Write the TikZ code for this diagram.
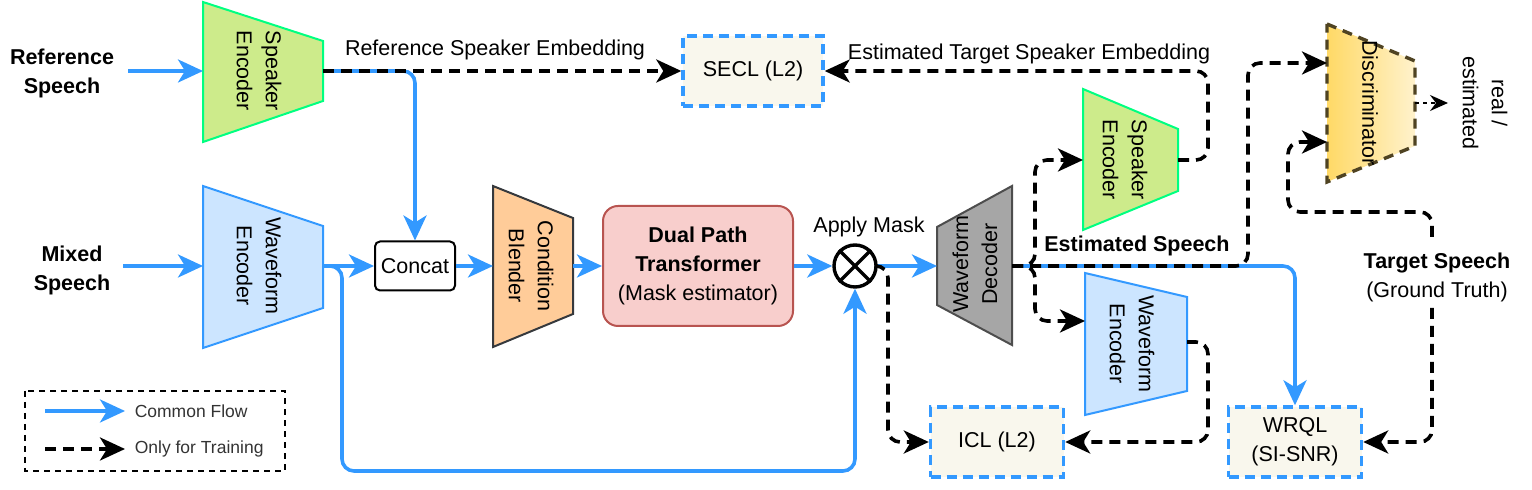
\documentclass[tikz,border=0pt]{standalone}
\usepackage{fontspec}
\setmainfont{Liberation Sans}
\usepackage{tikz}
\usetikzlibrary{arrows.meta,calc}
\definecolor{bleu}{HTML}{3399FF}
\definecolor{bleuclair}{HTML}{CCE5FF}
\definecolor{vert}{HTML}{00FF80}
\definecolor{vertclair}{HTML}{CDEB8B}
\definecolor{peche}{HTML}{FFCC99}
\definecolor{ardoise}{HTML}{36393D}
\definecolor{rose}{HTML}{F8CECC}
\definecolor{brique}{HTML}{B85450}
\definecolor{gris}{HTML}{A6A6A6}
\definecolor{grisfonce}{HTML}{4D4D4D}
\definecolor{beige}{HTML}{F9F7ED}
\definecolor{jaune}{HTML}{FFD966}
\definecolor{jauneclair}{HTML}{FFF2CC}
\definecolor{bronze}{HTML}{4F4322}
\definecolor{encre}{HTML}{333333}

\begin{document}
\begin{tikzpicture}[x=0.5pt, y=-0.5pt,
  font=\fontsize{10.75}{14.5}\selectfont,
  pointe/.style={-{Stealth[length=12.5pt,width=11.5pt,inset=3.5pt]}},
  flux/.style={pointe, draw=bleu, line width=1.8pt, rounded corners=6pt},
  entrainement/.style={pointe, draw=black, line width=1.8pt, dash pattern=on 5.5pt off 3.5pt, rounded corners=6pt},
  perte/.style={draw=bleu, fill=beige, line width=1.7pt, dash pattern=on 5pt off 3pt, minimum height=35pt, inner sep=0pt, align=center},
  texte/.style={align=center, inner sep=0pt}]
  \useasboundingbox (0,0) rectangle (1532,490);

  % Entrees.
  \node[texte, font=\fontsize{10.75}{14.5}\selectfont\bfseries] (refspeech) at (62,73) {Reference\\Speech};
  \node[texte, font=\fontsize{10.75}{14.5}\selectfont\bfseries] (mixspeech) at (72,270) {Mixed\\Speech};
  \coordinate (refsrc) at (128,71);
  \coordinate (mixsrc) at (123,266);

  % Encodeur de locuteur.
  \path[draw=vert, fill=vertclair, line width=1pt] (203,2) -- (323,41) -- (323,101) -- (203,142) -- cycle;
  \node[texte, rotate=-90] (se1) at (259,71) {Speaker\\Encoder};
  \coordinate (se1in) at (203,71);
  \coordinate (se1out) at (323,71);

  % Encodeur de forme d'onde.
  \path[draw=bleu, fill=bleuclair, line width=1pt] (203,186) -- (323,226) -- (323,308) -- (203,348) -- cycle;
  \node[texte, rotate=-90] (we1) at (259,266) {Waveform\\Encoder};
  \coordinate (we1in) at (203,266);
  \coordinate (we1out) at (323,266);

  % Concat.
  \node[draw=black, line width=1pt, rounded corners=2.5pt, minimum width=40pt, minimum height=24.5pt, texte] (concat) at (415,266) {Concat};

  % Melangeur.
  \path[draw=ardoise, fill=peche, line width=1pt] (493,186) -- (573,218) -- (573,314) -- (493,347) -- cycle;
  \node[texte, rotate=-90] (cb) at (531,266) {Condition\\Blender};
  \coordinate (cbin) at (493,266);
  \coordinate (cbout) at (573,266);

  % Transformer.
  \node[draw=brique, fill=rose, line width=1pt, rounded corners=7.5pt, minimum width=95pt, minimum height=60pt, texte] (dpt) at (698,266) {\textbf{Dual Path}\\\textbf{Transformer}\\(Mask estimator)};

  % Masque.
  \node[circle, draw=black, line width=1.7pt, minimum size=21pt, inner sep=0pt] (mask) at (855,266) {};
  \draw[line width=1.7pt] (mask.north west) -- (mask.south east) (mask.north east) -- (mask.south west);
  \node[inner sep=0pt, anchor=base] (masklabel) at (869,233) {Apply Mask};

  % Decodeur.
  \path[draw=grisfonce, fill=gris, line width=1pt] (937,227) -- (1012,186) -- (1012,345) -- (937,305) -- cycle;
  \node[texte, rotate=90] (wd) at (975,264) {Waveform\\Decoder};
  \coordinate (wdin) at (937,266);
  \coordinate (wdout) at (1012,266);
  \node[inner sep=0pt, anchor=base, font=\fontsize{10.75}{14.5}\selectfont\bfseries] (estspeech) at (1137,252) {Estimated Speech};

  % Encodeurs de la sortie.
  \path[draw=vert, fill=vertclair, line width=1pt] (1083,89) -- (1178,129) -- (1178,191) -- (1083,230) -- cycle;
  \node[texte, rotate=-90] (se2) at (1125,160) {Speaker\\Encoder};
  \coordinate (se2in) at (1083,160);
  \coordinate (se2out) at (1178,160);
  \path[draw=bleu, fill=bleuclair, line width=1pt] (1085,273) -- (1187,297) -- (1187,391) -- (1085,415) -- cycle;
  \node[texte, rotate=-90] (we2) at (1132,344) {Waveform\\Encoder};
  \coordinate (we2in) at (1085,321);
  \coordinate (we2out) at (1187,342);

  % Discriminateur.
  \path[draw=bronze, left color=jaune, right color=jauneclair, line width=1.7pt, dash pattern=on 5pt off 3.5pt] (1327,24) -- (1415,61) -- (1415,146) -- (1327,182) -- cycle;
  \node[texte, rotate=-90] (disc) at (1370,103) {Discriminator};
  \coordinate (discin1) at (1327,63);
  \coordinate (discin2) at (1327,142);
  \coordinate (discout) at (1415,103);
  \node[texte, rotate=-90] (verdict) at (1485,103) {real /\\estimated};

  % Pertes.
  \node[perte, minimum width=70pt] (secl) at (753,71) {SECL (L2)};
  \node[perte, minimum width=66.5pt] (icl) at (997,442) {ICL (L2)};
  \node[perte, minimum width=66.5pt] (wrql) at (1295,442) {WRQL\\(SI-SNR)};

  % Cible.
  \node[texte] (tgt) at (1437,277) {\textbf{Target Speech}\\(Ground Truth)};
  \coordinate (tgtup) at (1432,237);
  \coordinate (tgtdn) at (1432,308);

  % Flux commun.
  \draw[flux] (refsrc) -- (se1in);
  \draw[flux] (mixsrc) -- (we1in);
  \draw[flux] (se1out) -| (concat.north);
  \draw[flux] (we1out) -- (concat.west);
  \draw[flux] (we1out) -- (342,266) -- (342,471) -| (mask.south);
  \draw[flux] (concat.east) -- (cbin);
  \draw[flux] (cbout) -- (dpt.west);
  \draw[flux] (dpt.east) -- (mask.west);
  \draw[flux] (mask.east) -- (wdin);
  \draw[flux] (wdout) -| (wrql.north);

  % Entrainement.
  \draw[entrainement] (se1out) -- (secl.west);
  \node[inner sep=0pt, anchor=base] (refemb) at (495,56) {Reference Speaker Embedding};
  \draw[entrainement] (se2out) -- (1208,160) |- (secl.east);
  \node[inner sep=0pt, anchor=base] (estemb) at (1029,60) {Estimated Target Speaker Embedding};
  \draw[entrainement] (wdout) -- (1248,266) |- (discin1);
  \draw[entrainement] (wdout) -- (1035,266) |- (se2in);
  \draw[entrainement] (wdout) -- (1035,266) |- (we2in);
  \draw[entrainement] (we2out) -- (1208,342) |- (icl.east);
  \draw[entrainement] (mask.east) -- (888,266) |- (icl.west);
  \draw[entrainement] (tgtdn) |- (wrql.east);
  \draw[entrainement] (tgtup) |- (1288,212) |- (discin2);
  \draw[black, line width=0.8pt, dash pattern=on 2pt off 2pt, -{Stealth[length=9pt,width=8pt,inset=3pt]}] (discout) -- ++(33,0);

  % Legende.
  \path[draw=black, line width=0.8pt, dash pattern=on 3pt off 2.5pt] (25,391) rectangle (285,471);
  \coordinate (lg1) at (45,411);
  \coordinate (lg2) at (45,449);
  \draw[flux] (lg1) -- ++(80,0) node[right=4pt, inner sep=0pt, text=encre, font=\fontsize{8.75}{10.5}\selectfont] (lgflux) {Common Flow};
  \draw[entrainement] (lg2) -- ++(80,0) node[right=4pt, inner sep=0pt, text=encre, font=\fontsize{8.75}{10.5}\selectfont] (lgtrain) {Only for Training};
\end{tikzpicture}
\end{document}
